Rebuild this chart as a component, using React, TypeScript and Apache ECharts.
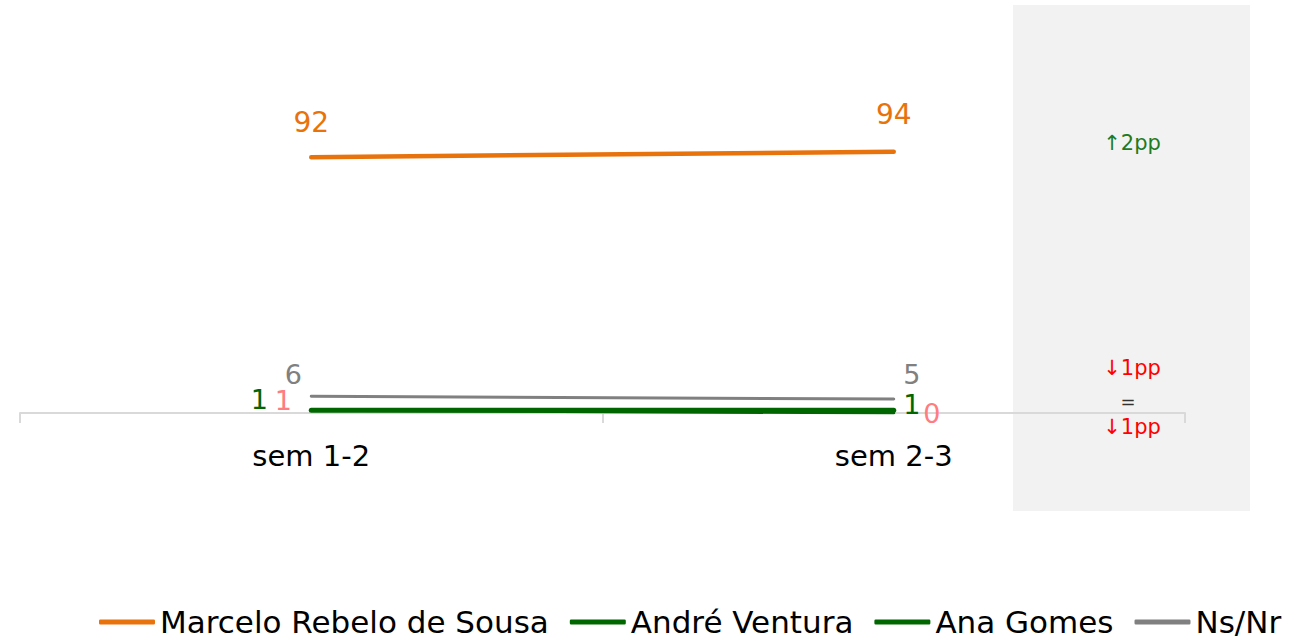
import React, { useEffect, useRef } from "react";
import * as echarts from "echarts";

const categories = ["sem 1-2", "sem 2-3"];
const marcelo = [92, 94];
const andre = [1, 1];
const ana = [1, 0];
const nsnr = [6, 5];
const seriesNames = ["Marcelo Rebelo de Sousa", "André Ventura", "Ana Gomes", "Ns/Nr"];
const changeTexts = ["↑2pp", "↓1pp", "=", "↓1pp"];

const FONT = "DejaVu Sans";

export default function App() {
  const ref = useRef<HTMLDivElement>(null);
  useEffect(() => {
    if (!ref.current) return;
    const chart = echarts.init(ref.current, undefined, { renderer: "svg" });

    const mk = (vals: number[], color: string, offsets: number[][], size = 28) =>
      vals.map((v, i) => ({
        value: v,
        label: {
          show: true,
          position: "inside",
          offset: offsets[i],
          color,
          fontFamily: FONT,
          fontSize: size,
          lineHeight: size - 4,
        },
      }));

    const orange = "#E8720C";
    const green = "#006600";
    const pink = "#FF7C80";
    const grey = "#808080";

    const textEl = (t: string, x: number, y: number, fill: string, size: number) => ({
      type: "text",
      z: 100,
      x,
      y,
      style: { text: t, fill, font: `${size}px "${FONT}"`, align: "center", verticalAlign: "middle" },
    });

    chart.setOption({
      animation: false,
      grid: { left: 20, right: 120, top: 135, bottom: 228 },
      graphic: [
        {
          type: "rect",
          z: -10,
          shape: { x: 1013, y: 5, width: 237, height: 506 },
          style: { fill: "#F2F2F2" },
        },
        textEl(changeTexts[0], 1132, 143, "#1E7B1E", 21),
        textEl(changeTexts[1], 1132, 368, "#FF0000", 21),
        textEl(changeTexts[2], 1128, 401, "#333333", 18),
        textEl(changeTexts[3], 1132, 427, "#FF0000", 21),
      ],
      legend: {
        left: 99,
        top: 605,
        padding: 0,
        width: 1700,
        itemWidth: 56,
        itemHeight: 5,
        itemGap: 21,
        icon: "roundRect",
        textStyle: { fontFamily: FONT, fontSize: 31, lineHeight: 34, color: "#000" },
        data: seriesNames,
      },
      xAxis: {
        type: "category",
        data: categories,
        boundaryGap: true,
        axisLine: { lineStyle: { color: "#D9D9D9", width: 2 } },
        axisTick: { show: true, length: 10, lineStyle: { color: "#D9D9D9", width: 2 } },
        axisLabel: { fontFamily: FONT, fontSize: 29, color: "#000", margin: 28 },
      },
      yAxis: {
        type: "value",
        min: 0,
        max: 100,
        show: false,
        splitLine: { show: false },
      },
      series: [
        {
          name: seriesNames[2],
          type: "line",
          symbol: "circle",
          symbolSize: 1,
          data: mk(ana, pink, [[-28, -10], [38, 0]], 27),
          lineStyle: { color: green, width: 3, cap: "round" },
          itemStyle: { color: green },
          z: 2,
        },
        {
          name: seriesNames[1],
          type: "line",
          symbol: "circle",
          symbolSize: 1,
          data: mk(andre, green, [[-52, -11], [18, -6]], 27),
          lineStyle: { color: green, width: 5, cap: "round" },
          itemStyle: { color: green },
          z: 3,
        },
        {
          name: seriesNames[3],
          type: "line",
          symbol: "circle",
          symbolSize: 1,
          data: mk(nsnr, grey, [[-18, -22], [18, -25]], 27),
          lineStyle: { color: grey, width: 3, cap: "round" },
          itemStyle: { color: grey },
          z: 2,
        },
        {
          name: seriesNames[0],
          type: "line",
          symbol: "circle",
          symbolSize: 1,
          data: mk(marcelo, orange, [[0, -35], [0, -37]]),
          lineStyle: { color: orange, width: 4.5, cap: "round" },
          itemStyle: { color: orange },
          z: 4,
        },
      ],
    });
    return () => chart.dispose();
  }, []);

  return (
    <div
      ref={ref}
      style={{ position: "fixed", left: 0, top: 0, width: 1305, height: 641, background: "#fff" }}
    />
  );
}
